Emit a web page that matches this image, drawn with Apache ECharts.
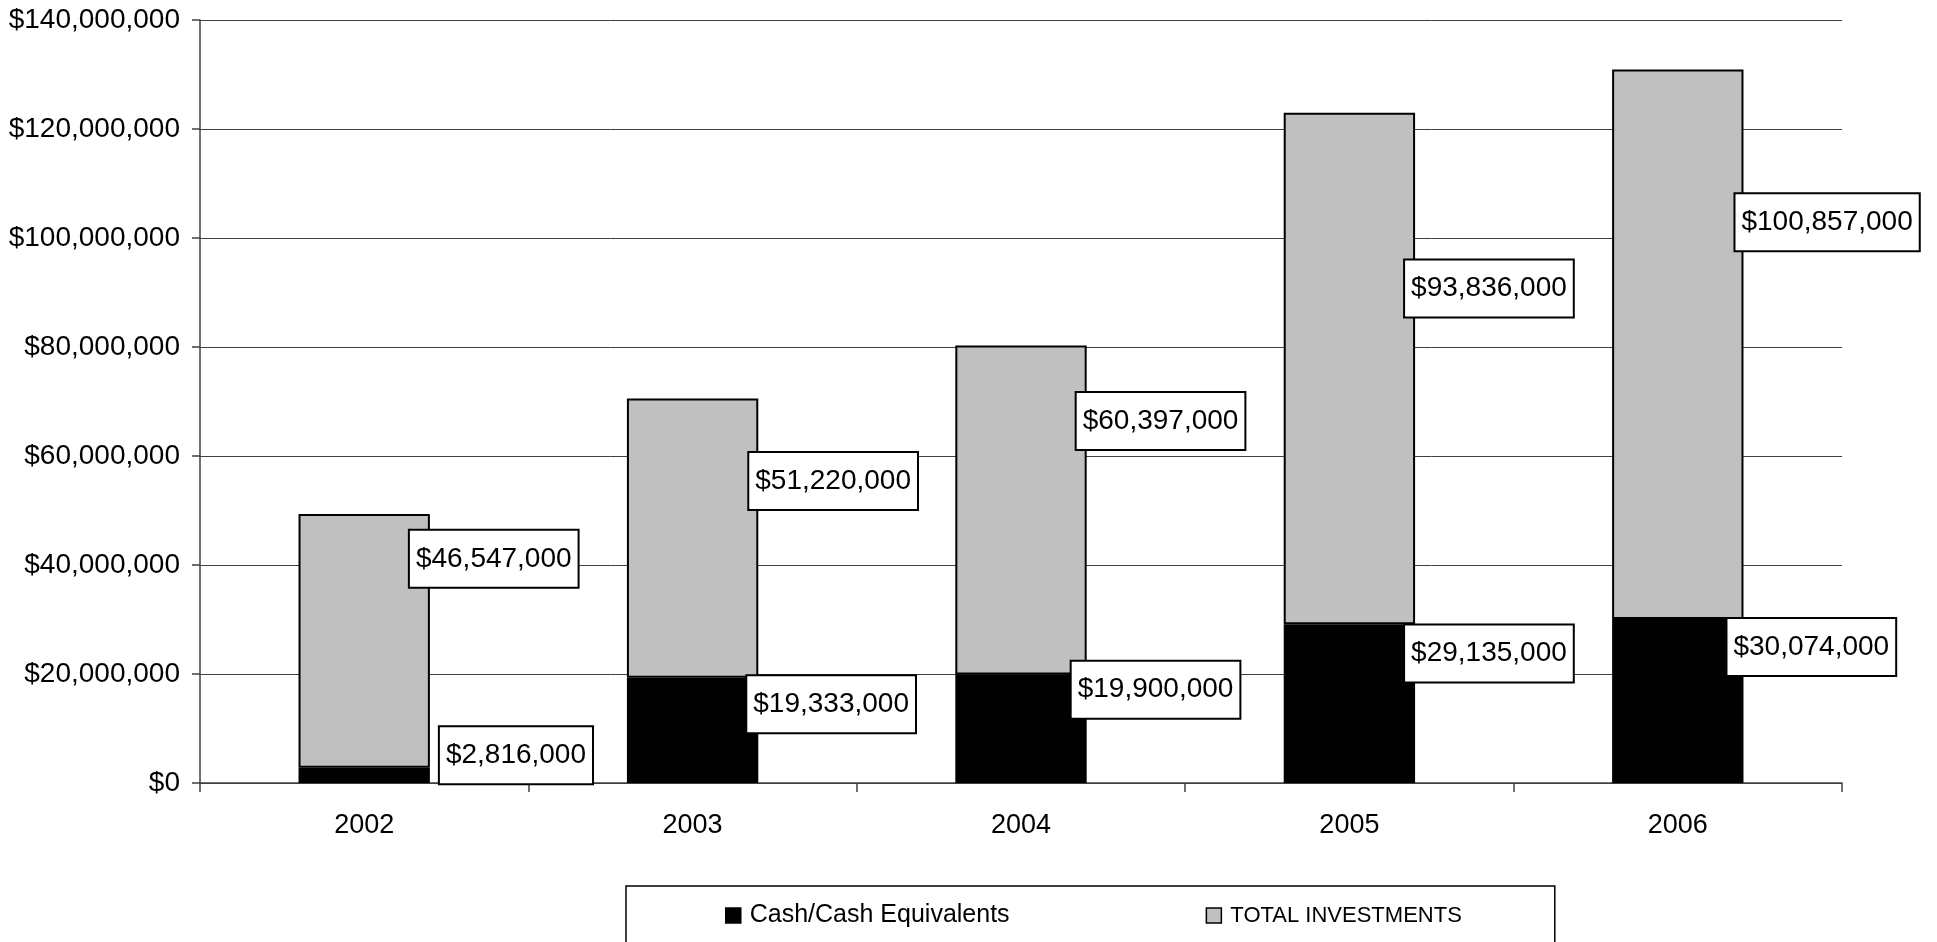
<!DOCTYPE html>
<html lang="en">

<head>
    <meta charset="UTF-8">
    <style>
        body {
            margin: 0;
            background: #fff;
        }
        #main {
            width: 1937px;
            height: 942px;
        }
    </style>
    <title>Cash and Investments</title>
</head>

<body>
    <div id="main"></div>

    <script src="https://cdn.jsdelivr.net/npm/echarts/dist/echarts.min.js"></script>
    <script>
        // values
        var years = ['2002', '2003', '2004', '2005', '2006'];
        var cash = [2816000, 19333000, 19900000, 29135000, 30074000];
        var investments = [46547000, 51220000, 60397000, 93836000, 100857000];

        // where each value box was dragged to, [dx, dy] from the segment's right edge middle
        var cashLabelShift = [[10, -20], [-11, -26], [-15, -39], [-10, -50], [-16, -54]];
        var totalLabelShift = [[-20, -82], [-9, -57], [-10, -89], [-10, -80], [-8, -122]];

        var fontName = '"Liberation Sans", Arial, sans-serif';

        function money(v) {
            return '$' + Number(v).toLocaleString('en-US');
        }

        var boxLabel = {
            show: true,
            position: 'right',
            distance: 0,
            color: '#000',
            fontFamily: fontName,
            fontSize: 28,
            lineHeight: 28,
            backgroundColor: '#fff',
            borderColor: '#000',
            borderWidth: 2,
            padding: [14, 6, 14, 6],
            formatter: function (p) {
                return money(p.value);
            }
        };

        function withLabels(values, shifts) {
            return values.map(function (v, i) {
                return {
                    value: v,
                    label: { offset: shifts[i] }
                };
            });
        }

        var option = {
            animation: false,
            backgroundColor: '#fff',
            grid: {
                left: 200,
                right: 95,
                top: 20,
                bottom: 159
            },
            legend: {
                left: 626,
                top: 886,
                padding: [17, 93, 40, 99],
                itemGap: 196,
                itemWidth: 15,
                itemHeight: 15,
                icon: 'rect',
                borderColor: '#000',
                borderWidth: 1.5,
                itemStyle: {
                    borderColor: '#000',
                    borderWidth: 1.5
                },
                textStyle: {
                    color: '#000',
                    fontFamily: fontName,
                    fontSize: 25,
                    padding: [0, 0, 0, 4]
                },
                data: [{
                        name: 'Cash/Cash Equivalents'
                    },
                    {
                        // the caps in the original are narrower, so a smaller size keeps the width
                        name: 'TOTAL INVESTMENTS',
                        textStyle: { fontSize: 22 }
                    }
                ]
            },
            xAxis: {
                type: 'category',
                data: years,
                axisLine: { lineStyle: { color: '#404040', width: 1.5 } },
                axisTick: { show: true, length: 9, lineStyle: { color: '#404040', width: 1.5 } },
                axisLabel: {
                    color: '#000',
                    fontFamily: fontName,
                    fontSize: 27,
                    margin: 29
                }
            },
            yAxis: {
                type: 'value',
                min: 0,
                max: 140000000,
                interval: 20000000,
                axisLine: { show: true, lineStyle: { color: '#404040', width: 1.5 } },
                axisTick: { show: true, length: 8, lineStyle: { color: '#404040', width: 1.5 } },
                splitLine: { lineStyle: { color: '#404040', width: 1 } },
                axisLabel: {
                    color: '#000',
                    fontFamily: fontName,
                    fontSize: 28,
                    margin: 20,
                    formatter: money
                }
            },
            series: [{
                    name: 'Cash/Cash Equivalents',
                    type: 'bar',
                    stack: 'all',
                    barWidth: '40%',
                    itemStyle: {
                        color: '#000',
                        borderColor: '#000',
                        borderWidth: 2
                    },
                    label: boxLabel,
                    data: withLabels(cash, cashLabelShift)
                },
                {
                    name: 'TOTAL INVESTMENTS',
                    type: 'bar',
                    stack: 'all',
                    barWidth: '40%',
                    itemStyle: {
                        color: '#c0c0c0',
                        borderColor: '#000',
                        borderWidth: 2
                    },
                    label: boxLabel,
                    data: withLabels(investments, totalLabelShift)
                }
            ]
        };

        var myChart = echarts.init(document.getElementById('main'));
        myChart.setOption(option);
    </script>
</body>

</html>
